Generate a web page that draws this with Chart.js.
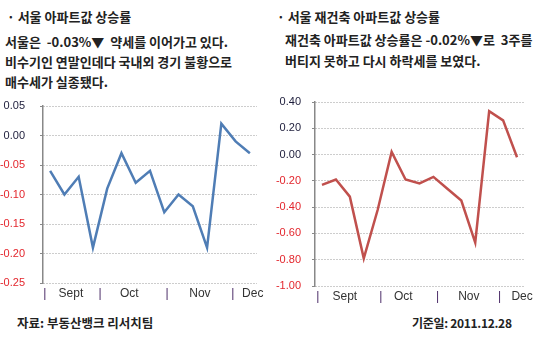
<!DOCTYPE html>
<html>
<head>
<meta charset="utf-8">
<script src="https://cdn.jsdelivr.net/npm/chart.js@4/dist/chart.umd.min.js"></script>
<style>
  body { margin: 0; background: #fff; width: 539px; height: 338px; position: relative; overflow: hidden; }
  .txt { position: absolute; white-space: pre; font-family: "Noto Sans CJK KR", sans-serif; font-weight: bold; font-size: 13px; line-height: 16px; color: #222; }
  .box { position: absolute; }
  canvas { display: block; }
</style>
</head>
<body>
<div class="txt" style="left:7px; top:9px;">· 서울 아파트값 상승률</div>
<div class="txt" style="left:5px; top:34px;">서울은  -0.03%▼  약세를 이어가고 있다.</div>
<div class="txt" style="left:5px; top:54px;">비수기인 연말인데다 국내외 경기 불황으로</div>
<div class="txt" style="left:5px; top:74px;">매수세가 실종됐다.</div>

<div class="txt" style="left:277px; top:9px;">· 서울 재건축 아파트값 상승률</div>
<div class="txt" style="left:285px; top:32px;">재건축 아파트값 상승률은 -0.02%▼로  3주를</div>
<div class="txt" style="left:285px; top:53px;">버티지 못하고 다시 하락세를 보였다.</div>

<div class="txt" style="left:17px; top:315px; font-size:12.5px;">자료: 부동산뱅크 리서치팀</div>
<div class="txt" style="left:412px; top:315px; font-size:12px; letter-spacing:-0.3px;">기준일: 2011.12.28</div>

<div class="box" style="left:0px; top:95px; width:265px; height:210px;"><canvas id="seoulChart"></canvas></div>
<div class="box" style="left:270px; top:90px; width:269px; height:215px;"><canvas id="rebuildChart"></canvas></div>

<script>
// weekly change (%), Sept - Dec 2011
var seoulValues = [-0.06, -0.10, -0.07, -0.19, -0.09, -0.03, -0.08, -0.06, -0.13, -0.10, -0.12, -0.19, 0.02, -0.01, -0.03];
var rebuildValues = [-0.23, -0.19, -0.32, -0.79, -0.42, 0.02, -0.19, -0.22, -0.17, -0.26, -0.35, -0.67, 0.33, 0.26, -0.02];

// month labels with the "|" separators under the x axis
var monthLabels = ["|", "Sept", "|", "Oct", "|", "Nov", "|", "Dec"];
var seoulMonthPos = [-0.37, 1.46, 3.5, 5.55, 8.2, 10.5, 12.8, 14.2];
var rebuildMonthPos = [-0.3, 1.64, 4.23, 5.84, 8.3, 10.54, 12.75, 14.36];

Chart.defaults.font.family = "'Liberation Sans', Arial, sans-serif";
Chart.defaults.animation = false;

function makeChart(canvasId, values, color, yMin, yMax, yStep, monthPos, yWidth, xHeight, pad, labelPad) {
    var points = [];
    for (var i = 0; i < values.length; i++) {
        points.push({ x: i, y: values[i] });
    }
    return new Chart(document.getElementById(canvasId), {
        type: 'line',
        data: {
            datasets: [{
                data: points,
                borderColor: color,
                borderWidth: 2.5,
                pointRadius: 0,
                tension: 0,
                fill: false
            }]
        },
        options: {
            responsive: true,
            maintainAspectRatio: false,
            layout: { padding: pad },
            plugins: { legend: { display: false }, tooltip: { enabled: false } },
            scales: {
                x: {
                    type: 'linear',
                    min: -0.5,
                    max: 14.5,
                    grid: { display: false, drawTicks: false },
                    border: { display: false },
                    afterBuildTicks: function (scale) {
                        scale.ticks = monthPos.map(function (v) { return { value: v }; });
                    },
                    afterFit: function (scale) {
                        scale.height = xHeight;
                        scale.paddingLeft = 0;
                        scale.paddingRight = 0;
                    },
                    ticks: {
                        autoSkip: false,
                        maxRotation: 0,
                        padding: 3,
                        font: { size: 12 },
                        color: function (ctx) {
                            return monthLabels[ctx.index] == "|" ? "#4a2a66" : "#333333";
                        },
                        callback: function (value, index) { return monthLabels[index]; }
                    }
                },
                y: {
                    min: yMin,
                    max: yMax,
                    grid: {
                        color: '#9a9a9a',
                        lineWidth: 1,
                        tickLength: 3,
                        tickColor: '#888888'
                    },
                    border: { display: true, color: '#888888', width: 1.5, dash: [1, 2] },
                    afterFit: function (scale) {
                        scale.width = yWidth;
                        scale.paddingTop = 0;
                        scale.paddingBottom = 0;
                    },
                    ticks: {
                        stepSize: yStep,
                        padding: labelPad,
                        font: { size: 11 },
                        color: function (ctx) {
                            return ctx.tick.value < -1e-9 ? "#e3262d" : "#1c1c3a";
                        },
                        callback: function (value) {
                            if (Math.abs(value) < 1e-9) value = 0;
                            return value.toFixed(2);
                        }
                    }
                }
            }
        }
    });
}

var seoulChart = makeChart('seoulChart', seoulValues, '#4f7db5', -0.25, 0.05, 0.05, seoulMonthPos,
    43, 22, { left: 0, top: 11, right: 8, bottom: 0 }, 15);
var rebuildChart = makeChart('rebuildChart', rebuildValues, '#c0504d', -1.0, 0.4, 0.2, rebuildMonthPos,
    45, 19, { left: 0, top: 12, right: 15, bottom: 0 }, 11);
</script>
</body>
</html>
